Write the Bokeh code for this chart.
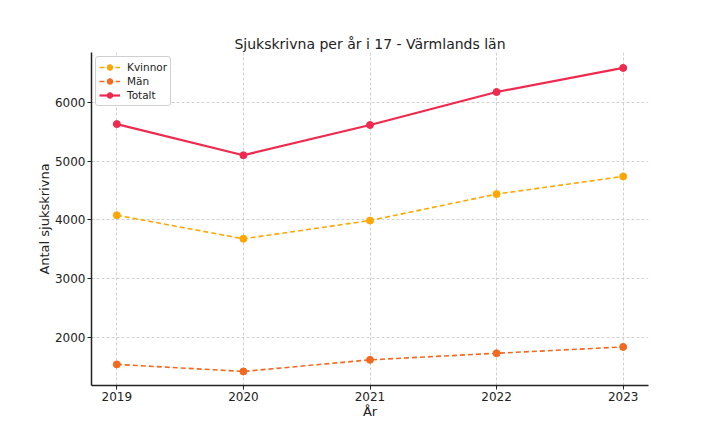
from bokeh.plotting import figure
from bokeh.models import Range1d, FixedTicker, Legend, LegendItem
from bokeh.embed import file_html
from bokeh.resources import INLINE

years = [2019, 2020, 2021, 2022, 2023]
kvinnor = [4080, 3680, 3990, 4440, 4740]
man = [1545, 1425, 1622, 1734, 1842]
totalt = [5630, 5100, 5615, 6175, 6585]

FONT = "DejaVu Sans"

p = figure(width=712, height=422, output_backend="svg", toolbar_location=None,
           x_range=Range1d(2018.8, 2023.2), y_range=Range1d(1186, 6847),
           min_border_left=91, min_border_right=64, min_border_top=52, min_border_bottom=37)

p.title.text = "Sjukskrivna per år i 17 - Värmlands län"
p.title.text_font = FONT
p.title.text_font_size = "14px"
p.title.text_font_style = "normal"
p.title.align = "center"
p.title.text_color = "#222222"
p.title.standoff = 2

p.outline_line_color = None
p.background_fill_color = "white"
p.border_fill_color = "white"

for ax in (p.xaxis, p.yaxis):
    ax.axis_line_color = "#222222"
    ax.axis_line_width = 1.5
    ax.major_tick_out = 4
    ax.major_tick_in = 0
    ax.minor_tick_line_color = None
    ax.major_tick_line_color = "#222222"
    ax.major_label_text_font = FONT
    ax.major_label_text_font_size = "12px"
    ax.major_label_text_color = "#222222"
    ax.axis_label_text_font = FONT
    ax.axis_label_text_font_size = "13px"
    ax.axis_label_text_font_style = "normal"
    ax.axis_label_text_color = "#222222"
    ax.major_label_standoff = 2
    ax.axis_label_standoff = 0

p.xaxis.ticker = FixedTicker(ticks=years)
p.yaxis.ticker = FixedTicker(ticks=[2000, 3000, 4000, 5000, 6000])
p.xaxis.axis_label = "År"
p.yaxis.axis_label = "Antal sjukskrivna"

for g in (p.xgrid, p.ygrid):
    g.grid_line_color = "#c4c4c4"
    g.grid_line_dash = "3 2"
    g.grid_line_width = 0.8

c_k = "#FFA600"
c_m = "#F26A22"
c_t = "#EF2A4E"

lk = p.line(years, kvinnor, line_color=c_k, line_width=1.6, line_dash="5 3")
sk = p.scatter(years, kvinnor, size=7, fill_color=c_k, line_color=c_k)
lm = p.line(years, man, line_color=c_m, line_width=1.6, line_dash="5 3")
sm = p.scatter(years, man, size=7, fill_color=c_m, line_color=c_m)
lt = p.line(years, totalt, line_color=c_t, line_width=2.2)
st = p.scatter(years, totalt, size=7, fill_color=c_t, line_color=c_t)

legend = Legend(items=[
    LegendItem(label="Kvinnor", renderers=[lk, sk]),
    LegendItem(label="Män", renderers=[lm, sm]),
    LegendItem(label="Totalt", renderers=[lt, st]),
], location="top_left")
legend.label_text_font = FONT
legend.label_text_font_size = "10.5px"
legend.label_text_color = "#222222"
legend.border_line_color = "#d0d0d0"
legend.border_line_alpha = 1
legend.border_radius = 3
legend.margin = 4
legend.padding = 3
legend.spacing = 0
legend.glyph_height = 14
legend.label_height = 14
legend.glyph_width = 21
legend.label_standoff = 7
p.add_layout(legend)

open("out.html", "w").write(file_html(p, INLINE))
